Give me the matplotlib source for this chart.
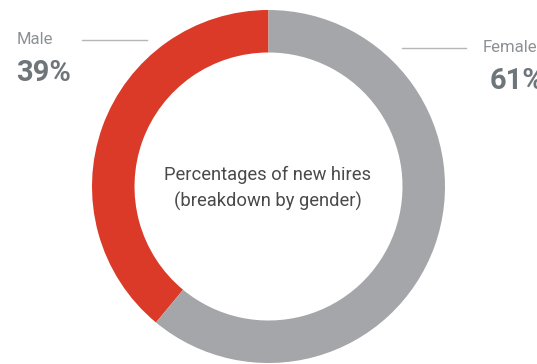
import matplotlib.pyplot as plt

# Share of new hires by gender
labels = ['Male', 'Female']
shares = [39, 61]
colors = ['#da3a27', '#a5a6a9']

plt.rcParams['font.family'] = ['Roboto', 'DejaVu Sans']

fig = plt.figure(figsize=(5.37, 3.64), dpi=100)
ax = fig.add_axes([0, 0, 1, 1])

# Donut, starting at 12 o'clock and running counter-clockwise
ax.pie(shares, colors=colors, startangle=90, counterclock=True,
       center=(268.5, 177.5), radius=176.5,
       wedgeprops=dict(width=42.5, linewidth=0))

ax.set_xlim(0, 537)
ax.set_ylim(0, 364)
ax.set_aspect('equal')
ax.axis('off')

label_col = '#8c9194'
pct_col = '#6f767a'
line_col = '#b4b6b8'

# Male label on the left
ax.plot([82, 147], [364 - 39.5, 364 - 39.5], color=line_col, lw=1)
ax.text(17, 364 - 44, labels[0], fontsize=12, color=label_col, ha='left', va='baseline')
ax.text(16, 364 - 81, f'{shares[0]}%', fontsize=21, fontweight='bold', color=pct_col,
        ha='left', va='baseline')

# Female label on the right (runs off the edge)
ax.plot([402, 466], [364 - 47.5, 364 - 47.5], color=line_col, lw=1)
ax.text(483, 364 - 52, labels[1], fontsize=12, color=label_col, ha='left', va='baseline')
ax.text(490, 364 - 89, f'{shares[1]}%', fontsize=21, fontweight='bold', color=pct_col,
        ha='left', va='baseline')

# Caption inside the ring
ax.text(268, 364 - 180, 'Percentages of new hires', fontsize=13.2, color='#4a4a4a',
        ha='center', va='baseline')
ax.text(268, 364 - 207, '(breakdown by gender)', fontsize=13.2, color='#4a4a4a',
        ha='center', va='baseline')

fig.savefig('out.png', dpi=100)
